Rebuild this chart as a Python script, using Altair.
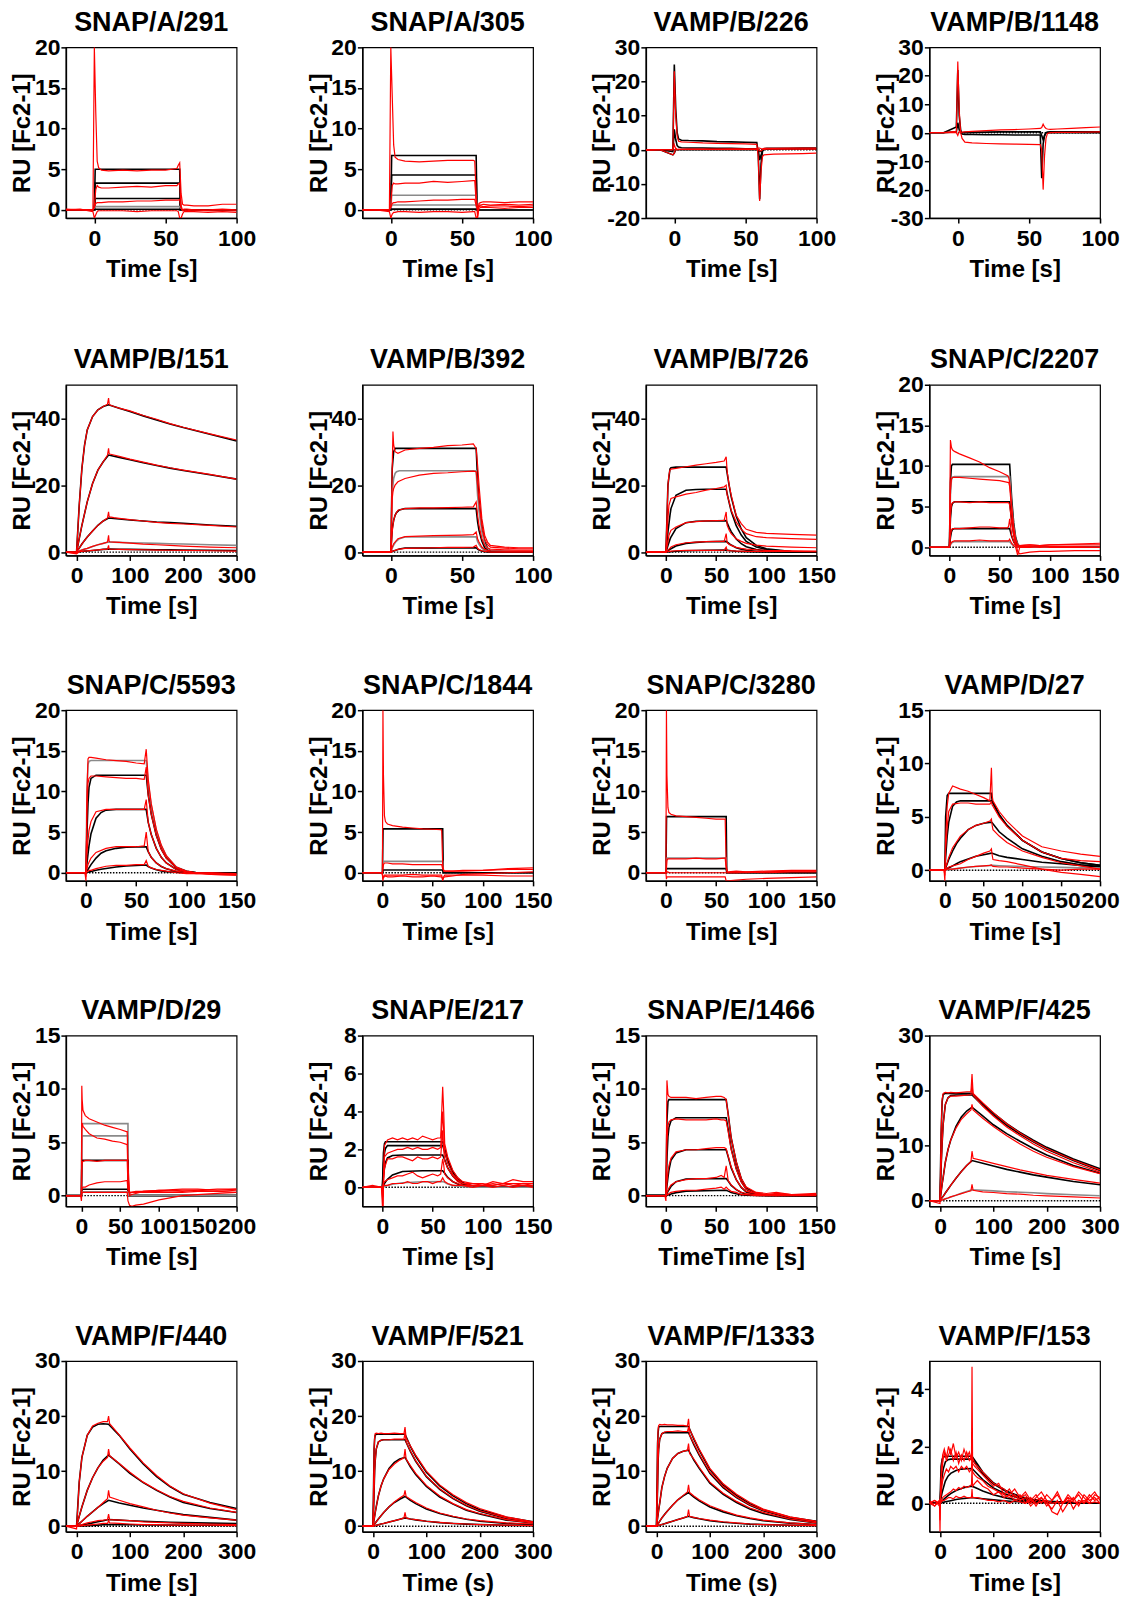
import altair as alt
import pandas as pd

FONT = "Liberation Sans"
PW, PH = 171, 171
RED = "#ff0000"
BLACK = "#000000"
GREY = "#8a8a8a"

# ---------------- shared time grids ----------------
T100 = [-20, -10, -1, 0, 1, 2, 3, 5, 10, 20, 30, 40, 50, 58, 59, 60, 61, 62, 63, 65, 70, 80, 90, 100]
RECT_T100 = [-20, 0, 0.6, 60, 60.6, 100]
RECT_T150 = [-20, 0, 0.6, 60, 60.6, 150]
RECT_T200 = [-20, 0, 0.6, 60, 60.6, 200]

# ---------------- SNAP/A/291 ----------------
P01_RED = [
    [0.1, 0, 0, 20, 12, 6, 5.2, 4.9, 4.8, 4.9, 4.8, 4.9, 4.9, 5.1, 5.5, 5.8, 2.0, 0.7, 0.6, 0.6, 0.5, 0.5, 0.7, 0.7],
    [0, 0, 0, 0.5, 2.5, 3.0, 2.8, 2.7, 2.7, 2.8, 2.9, 2.8, 3.0, 3.0, 3.2, 3.3, 0.5, 0.0, 0.1, 0.1, 0.0, 0.0, 0.1, 0.0],
    [0, 0, 0, 0.3, 0.8, 0.9, 0.9, 0.9, 1.0, 1.0, 1.1, 1.1, 1.2, 1.2, 1.2, 1.3, 0.2, -0.1, 0, -0.1, 0, -0.1, -0.1, -0.1],
    [0, 0.1, -0.2, -1.0, -0.6, -0.2, -0.1, -0.1, -0.1, -0.1, -0.2, -0.1, -0.1, -0.1, -0.2, -1.0, -1.0, -0.5, -0.2, -0.2, -0.2, -0.3, -0.2, -0.3],
]
P01_FIT = [[0, 0, 5.0, 5.0, 0, 0], [0, 0, 3.3, 3.3, 0, 0], [0, 0, 1.4, 1.4, 0, 0],
           [0, 0, 0.4, 0.4, 0, 0], [0, 0, 0.08, 0.08, 0, 0]]

# ---------------- SNAP/A/305 ----------------
P02_RED = [
    [0, 0, 0, 20, 14, 8, 6.5, 6.2, 6.0, 5.9, 6.0, 6.1, 6.1, 6.1, 6.0, 2.0, -1.0, 0.8, 0.9, 1.0, 1.0, 0.9, 1.0, 1.0],
    [0, 0, 0, 0.5, 3.0, 3.3, 3.2, 3.2, 3.3, 3.3, 3.5, 3.4, 3.5, 3.6, 3.6, 1.0, 0.2, 0.6, 0.6, 0.7, 0.6, 0.7, 0.6, 0.7],
    [0, 0, 0, 0.3, 0.8, 0.9, 0.9, 1.0, 1.0, 1.1, 1.2, 1.2, 1.3, 1.3, 1.3, 0.5, 0.3, 0.4, 0.5, 0.4, 0.5, 0.5, 0.4, 0.5],
    [0, 0, -0.2, -1.0, -0.5, -0.3, -0.3, -0.2, -0.2, -0.3, -0.2, -0.2, -0.3, -0.2, -0.2, -1.0, -0.8, 0.2, 0.3, 0.3, 0.3, 0.2, 0.3, 0.3],
]
P02_FIT = [[0, 0, 6.7, 6.7, 0, 0], [0, 0, 4.3, 4.3, 0, 0], [0, 0, 1.8, 1.8, 0, 0],
           [0, 0, 0.6, 0.6, 0, 0], [0, 0, 0.1, 0.1, 0, 0]]

# ---------------- VAMP/B/226 ----------------
P03_RED = [
    [0, 0, 0, 23, 10, 4, 2.5, 2.3, 2.2, 2.0, 1.9, 1.8, 1.7, 1.6, -2, -15, -6, -2, -1.5, -1.4, -1.3, -1.2, -1.1, -1.0],
    [-0.2, 0, 0, 1.5, 0.2, 0, 0.1, 0.1, 0.2, 0.2, 0.2, 0.3, 0.3, 0.3, 0.5, 0.5, 0.3, 0.3, 0.4, 0.4, 0.4, 0.5, 0.5, 0.5],
    [0, 0, -1.5, -1, 0.5, 0.1, 0.1, 0.1, 0.1, 0.1, 0.1, 0.1, 0.1, 0.1, 0.1, -0.3, -0.3, 0, 0.1, 0.2, 0.2, 0.2, 0.2, 0.2],
]
P03_FIT = [
    [0, 0, 0, 25, 12, 5, 3.2, 2.8, 2.7, 2.6, 2.4, 2.3, 2.2, 2.1, -1, -14.5, -4, -0.5, 0.3, 0.4, 0.4, 0.4, 0.5, 0.5],
    [0, 0, -0.5, 6, 3, 1.2, 0.8, 0.6, 0.5, 0.5, 0.4, 0.4, 0.3, 0.3, 0, -3, -1.5, -0.3, 0.2, 0.3, 0.3, 0.3, 0.3, 0.3],
    [0, 0, -1.5, -1, 0, 0, 0, 0, 0, 0, 0, 0, 0, 0, 0, -0.5, -0.5, 0, 0.1, 0.2, 0.2, 0.3, 0.3, 0.3],
]

# ---------------- VAMP/B/1148 ----------------
P04_RED = [
    [0, 0, 0.5, 25, 8, 0, -2, -3.3, -3.6, -3.8, -3.9, -4.0, -4.1, -4.2, -6, -20, -8, -2, -0.3, 0, 0.1, 0.1, 0.2, 0.3],
    [0, 0, 0, -1, 0.5, 0.2, 0.2, 0.3, 0.5, 0.7, 1.0, 1.1, 1.3, 1.5, 1.8, 3.0, 2.0, 1.5, 1.3, 1.2, 1.3, 1.5, 1.8, 2.0],
]
P04_FIT = [
    [0, 0, 2, 22, 6, 1, -0.5, -0.6, -0.6, -0.7, -0.7, -0.8, -0.8, -0.8, -16, -4, -1, 0, 0, 0, 0, 0, 0, 0],
    [0, 0, 0.3, 3.5, 1, 0, 0, 0.1, 0.2, 0.2, 0.3, 0.3, 0.3, 0.3, -1, -2.5, -1, 0, 0.2, 0.3, 0.3, 0.3, 0.3, 0.3],
]

# ---------------- VAMP/B/151 ----------------
P05_RED_T = [-20, 0, 5, 10, 15, 20, 30, 40, 50, 58, 60, 61, 62, 70, 80, 100, 125, 150, 175, 200, 250, 300]
P05_RED = [
    [0, 0, 14, 25, 32, 36.5, 40.5, 42.5, 43.5, 44.2, 46, 44.5, 44, 43.5, 43, 42.2, 40.8, 39.7, 38.4, 37.3, 35.3, 33.5],
    [0, 0, 4, 8, 11.5, 15, 20.5, 24.5, 27, 29, 31, 29.5, 29.3, 29, 28.6, 27.8, 26.9, 26, 25.2, 24.5, 23.2, 21.8],
    [0, 0, 1.2, 2.4, 3.5, 4.5, 6.3, 8, 9.3, 10.2, 12, 10.7, 10.5, 10.3, 10.1, 9.7, 9.3, 8.9, 8.6, 8.4, 8.0, 7.5],
    [0, -0.3, 0.3, 0.6, 0.9, 1.1, 1.7, 2.2, 2.6, 3.0, 5, 3.3, 3.1, 3.0, 2.9, 2.7, 2.4, 2.2, 2.0, 1.8, 1.5, 1.3],
    [0, -0.5, 0.1, 0.2, 0.3, 0.35, 0.5, 0.65, 0.8, 0.9, 2, 1.0, 0.9, 0.85, 0.8, 0.75, 0.7, 0.6, 0.55, 0.5, 0.4, 0.3],
]
P05_FIT_T = [-20, 0, 5, 10, 15, 20, 30, 40, 50, 60, 80, 100, 125, 150, 175, 200, 250, 300]
P05_FIT = [
    [0, 0, 14, 25, 32, 36.5, 40.5, 42.5, 43.5, 44, 43, 42, 40.7, 39.5, 38.3, 37.2, 35.2, 33.2],
    [0, 0, 4, 8, 11.5, 15, 20.5, 24.5, 27, 29, 28.3, 27.6, 26.7, 25.9, 25.1, 24.4, 23.1, 21.8],
    [0, 0, 1.2, 2.4, 3.5, 4.5, 6.3, 8, 9.3, 10.2, 9.9, 9.6, 9.3, 9.0, 8.8, 8.6, 8.1, 7.7],
    [0, 0, 0.3, 0.6, 0.9, 1.1, 1.7, 2.2, 2.6, 3.0, 2.9, 2.8, 2.7, 2.6, 2.5, 2.4, 2.2, 2.0],
    [0, 0, 0.1, 0.2, 0.3, 0.35, 0.5, 0.65, 0.8, 0.9, 0.85, 0.8, 0.75, 0.7, 0.65, 0.6, 0.55, 0.5],
]

# ---------------- VAMP/B/392 ----------------
P06_RED_T = [-20, -1, 0, 1, 1.5, 2, 3, 5, 10, 20, 30, 40, 50, 58, 60, 61, 62, 64, 66, 68, 70, 80, 90, 100]
P06_RED = [
    [0, 0, 0, 25, 36, 32, 30, 29.5, 30.5, 31, 31.3, 31.8, 32, 32.3, 31, 26, 20, 10, 5, 3, 2, 1.5, 1.3, 1.3],
    [0, 0, 0, 16, 18, 19, 20, 21, 22, 23, 23.5, 23.7, 24, 24.2, 24, 20, 15, 7.5, 3.8, 2.2, 1.5, 1.2, 1.0, 1.0],
    [0, 0, 0, 6, 8, 9.5, 11, 12.5, 13, 13.2, 13.2, 13.3, 13.4, 13.5, 15, 11, 8, 4, 2, 1.2, 0.9, 0.7, 0.6, 0.6],
    [0, 0, 0, 1.5, 2, 2.5, 3, 4, 4.6, 4.8, 4.9, 5, 5.1, 5.2, 6, 4, 3, 1.5, 0.8, 0.5, 0.4, 0.3, 0.3, 0.3],
    [0, 0, 0, 0.2, 0.3, 0.4, 0.5, 0.8, 1.1, 1.2, 1.3, 1.4, 1.4, 1.5, 2, 1.2, 0.8, 0.4, 0.2, 0.1, 0, 0, 0, 0],
]
P06_FIT_T = [-20, 0, 1, 2, 3, 4, 6, 10, 60, 61, 62, 64, 66, 68, 70, 100]
P06_FIT = [
    [0, 0, 25, 30, 31, 31, 31, 31, 31, 21.7, 15.5, 7.8, 3.1, 1.2, 0.3, 0],
    [0, 0, 18, 22, 23.5, 24, 24.3, 24.3, 24.3, 17, 12.2, 6.1, 2.4, 1.0, 0.2, 0],
    [0, 0, 7, 9.5, 11, 11.8, 12.6, 13, 13, 9.1, 6.5, 3.3, 1.3, 0.5, 0.1, 0],
    [0, 0, 1.2, 2.1, 2.8, 3.3, 4, 4.5, 4.6, 3.2, 2.3, 1.2, 0.5, 0.2, 0.05, 0],
    [0, 0, 0.2, 0.4, 0.5, 0.6, 0.9, 1.2, 1.3, 0.9, 0.65, 0.3, 0.13, 0.05, 0, 0],
]

# ---------------- VAMP/B/726 ----------------
P07_RED_T = [-20, -1, 0, 1, 2, 3, 4, 5, 10, 20, 30, 40, 50, 58, 60, 61, 63, 65, 70, 75, 80, 90, 100, 125, 150]
P07_RED = [
    [0, 0, 0, 10, 20, 23, 24.5, 24.8, 25, 25.5, 26, 26.4, 26.8, 27.2, 28.5, 24, 20, 17, 11, 8.5, 6.8, 5.9, 5.6, 5.3, 5.1],
    [0, 0, 0, 5, 10, 14, 15, 16, 16.5, 17.3, 17.8, 18.5, 19.0, 19.5, 20, 17, 15, 12.5, 9, 6.8, 5.5, 4.6, 4.3, 4.0, 3.8],
    [0, 0, 0, 1.5, 3, 5, 5.8, 6.5, 7.5, 8.8, 9.1, 9.3, 9.4, 9.5, 12, 8, 6.5, 5.5, 4, 3.2, 2.6, 2.1, 1.8, 1.5, 1.3],
    [0, 0, 0, 0.3, 0.6, 0.9, 1.2, 1.5, 2.2, 2.8, 3.0, 3.1, 3.2, 3.2, 5.5, 2.8, 2.3, 2.0, 1.4, 1.1, 0.9, 0.7, 0.5, 0.4, 0.3],
    [0, 0, 0, 0.1, 0.1, 0.2, 0.2, 0.3, 0.4, 0.5, 0.5, 0.5, 0.5, 0.6, 1.5, 0.5, 0.4, 0.4, 0.3, 0.3, 0.2, 0.2, 0.2, 0.2, 0.1],
]
P07_FIT_T = [-20, 0, 2, 4, 5, 10, 20, 30, 40, 60, 63, 65, 70, 75, 80, 90, 100, 125, 150]
P07_FIT = [
    [0, 0, 20, 24.8, 25.2, 25.4, 25.4, 25.4, 25.4, 25.4, 19.8, 16.5, 10.7, 6.9, 4.3, 2.0, 1.0, 0.13, 0],
    [0, 0, 6, 11, 13, 17, 18.5, 18.7, 18.8, 18.8, 14.7, 12.2, 7.9, 5.1, 3.2, 1.5, 0.75, 0.1, 0],
    [0, 0, 2, 3.8, 4.5, 7.0, 8.8, 9.2, 9.3, 9.4, 7.3, 6.1, 3.9, 2.5, 1.6, 0.75, 0.38, 0.05, 0],
    [0, 0, 0.4, 0.8, 1.0, 1.8, 2.6, 2.9, 3.1, 3.2, 2.5, 2.1, 1.3, 0.86, 0.54, 0.26, 0.13, 0.02, 0],
    [0, 0, 0.05, 0.1, 0.12, 0.25, 0.4, 0.5, 0.55, 0.6, 0.47, 0.39, 0.25, 0.16, 0.1, 0.05, 0.02, 0, 0],
]

# ---------------- SNAP/C/2207 ----------------
P08_RED_T = [-20, -1, 0, 1, 2, 3, 5, 10, 20, 30, 40, 50, 58, 59, 60, 62, 64, 66, 68, 70, 80, 90, 100, 125, 150]
P08_RED = [
    [0, 0, 0, 13.2, 12.3, 12, 11.8, 11.5, 11, 10.5, 9.8, 9.3, 8.8, 8.6, 8.0, 5, 2.5, 1, 0.3, 0.2, 0.3, 0.2, 0.3, 0.4, 0.5],
    [0, 0, 0, 7, 8.4, 8.6, 8.6, 8.6, 8.5, 8.4, 8.3, 8.2, 8.0, 8.0, 7.5, 4.5, 2, 0.5, -0.5, -0.8, -0.6, -0.5, -0.5, -0.4, -0.4],
    [0, 0, 0, 4, 5.2, 5.5, 5.6, 5.6, 5.5, 5.6, 5.5, 5.5, 5.5, 5.5, 5.2, 3, 1.5, 0.5, 0.2, 0.2, 0.3, 0.2, 0.3, 0.3, 0.3],
    [0, 0, 0, 1.5, 2.1, 2.3, 2.3, 2.3, 2.4, 2.5, 2.5, 2.4, 2.4, 2.6, 3.5, 1.5, 0.7, 0.2, 0, 0.1, 0.1, 0, 0.1, 0.1, 0],
    [0, 0, 0, 0.4, 0.6, 0.7, 0.8, 0.8, 0.8, 0.9, 0.8, 0.8, 0.8, 0.8, 1.0, 0.5, 0.2, 0, -1.0, 0, 0, 0.1, 0, 0, 0],
]
P08_FIT_T = [-20, 0, 1, 2, 3, 5, 60, 62, 64, 66, 68, 70, 150]
P08_FIT = [
    [0, 0, 8, 10, 10.2, 10.2, 10.2, 6, 3, 1.2, 0.4, 0.1, 0],
    [0, 0, 6.5, 8.3, 8.6, 8.7, 8.7, 5.1, 2.5, 1.0, 0.35, 0.08, 0],
    [0, 0, 3.5, 5.0, 5.4, 5.6, 5.6, 3.3, 1.6, 0.65, 0.2, 0.05, 0],
    [0, 0, 1.2, 1.9, 2.2, 2.3, 2.3, 1.35, 0.7, 0.27, 0.09, 0.02, 0],
    [0, 0, 0.3, 0.5, 0.6, 0.7, 0.7, 0.4, 0.2, 0.08, 0.03, 0, 0],
]

# ---------------- SNAP/C/5593 ----------------
P09_RED_T = [-20, -1, 0, 1, 2, 3, 5, 10, 20, 30, 40, 50, 58, 60, 62, 65, 70, 75, 80, 90, 100, 110, 125, 150]
P09_RED = [
    [0, 0, -1, 10, 14, 14.2, 14.2, 14.1, 13.9, 13.8, 13.7, 13.5, 13.4, 15.2, 11.5, 8.5, 5.4, 3.4, 2.1, 0.7, 0.2, 0, -0.2, -0.3],
    [0, 0, -0.5, 8, 11, 11.6, 11.9, 11.9, 11.8, 11.7, 11.6, 11.6, 11.5, 13, 9.5, 7.2, 4.6, 2.9, 1.8, 0.6, 0.1, 0, -0.1, -0.2],
    [0, 0, 0, 2.5, 4, 5.2, 6.3, 7.5, 7.8, 7.8, 7.8, 7.8, 7.8, 9, 6.2, 4.7, 3.0, 1.9, 1.2, 0.4, 0.1, 0, 0, -0.1],
    [0, 0, 0, 0.5, 1, 1.3, 1.8, 2.5, 3.0, 3.2, 3.2, 3.2, 3.3, 5, 2.6, 1.9, 1.2, 0.8, 0.5, 0.2, 0, -0.1, 0, -0.2],
    [0, 0, 0, 0.1, 0.2, 0.3, 0.3, 0.5, 0.8, 0.9, 0.9, 1.0, 1.0, 1.5, 0.8, 0.6, 0.4, 0.3, 0.2, 0, -0.1, -0.1, -0.2, -0.3],
]
P09_FIT_T = [-20, 0, 1, 2, 3, 5, 10, 15, 20, 30, 40, 60, 62, 65, 70, 75, 80, 90, 100, 110, 150]
P09_FIT = [
    [0, 0, 10, 13.3, 13.7, 13.8, 13.8, 13.8, 13.8, 13.8, 13.8, 13.8, 11.0, 8.3, 5.2, 3.3, 2.1, 0.7, 0.2, 0, 0],
    [0, 0, 5, 8.5, 10.5, 11.6, 12, 12, 12, 12, 12, 12, 9.6, 7.2, 4.6, 2.9, 1.8, 0.6, 0.18, 0, 0],
    [0, 0, 1.2, 2.3, 3.3, 4.8, 6.7, 7.4, 7.7, 7.8, 7.8, 7.8, 6.2, 4.7, 3.0, 1.9, 1.2, 0.4, 0.12, 0, 0],
    [0, 0, 0.2, 0.4, 0.6, 1.0, 1.8, 2.4, 2.7, 3.0, 3.15, 3.2, 2.6, 1.9, 1.2, 0.77, 0.48, 0.16, 0.05, 0, 0],
    [0, 0, 0.03, 0.06, 0.09, 0.15, 0.3, 0.42, 0.52, 0.7, 0.82, 0.95, 0.76, 0.57, 0.36, 0.23, 0.14, 0.05, 0.01, 0, 0],
]

# ---------------- SNAP/C/1844 and SNAP/C/3280 ----------------
C_RED_T = [-20, -1, 0, 0.5, 1, 2, 3, 5, 10, 20, 30, 40, 50, 58, 59, 60, 61, 62, 70, 80, 100, 125, 150]
P10_RED = [
    [0, 0, 0, 20, 12, 7, 6.3, 6.0, 5.8, 5.6, 5.5, 5.4, 5.35, 5.3, 5.2, 1, 0.2, 0.2, 0.2, 0.2, 0.3, 0.5, 0.6],
    [0, 0, 0, 0.5, 1.0, 1.2, 1.2, 1.2, 1.1, 1.1, 1.0, 1.0, 1.0, 1.0, 1.0, 0.5, 0.3, 0.2, 0.2, 0.3, 0.3, 0.4, 0.4],
    [0, 0, -0.3, -1, -0.5, -0.3, -0.3, -0.3, -0.3, -0.3, -0.2, -0.3, -0.3, -0.3, -0.3, -1, -0.5, -0.3, -0.3, -0.3, -0.3, -0.4, -0.4],
    [0, 0, 0, -0.6, -0.5, -0.5, -0.4, -0.5, -0.5, -0.4, -0.5, -0.5, -0.4, -0.5, -0.5, -0.8, -0.6, -0.5, -0.4, -0.2, -0.1, 0, 0.1],
]
P10_FIT = [[0, 0, 5.4, 5.4, 0, 0], [0, 0, 1.4, 1.4, 0, 0], [0, 0, 0.33, 0.33, 0, 0]]
P11_RED = [
    [0, 0, 0, 20, 12, 8, 7.4, 7.2, 7.0, 6.9, 6.8, 6.7, 6.6, 6.6, 6.6, 1, 0.2, 0.1, 0.2, 0.1, 0.2, 0.3, 0.3],
    [0, 0, 0, 0.5, 1.5, 1.7, 1.7, 1.7, 1.7, 1.7, 1.8, 1.7, 1.7, 1.8, 1.8, 0.5, 0.1, 0, 0, 0.1, 0, 0.1, 0.1],
    [0, 0, 0, -0.8, -0.5, -0.5, -0.5, -0.5, -0.5, -0.5, -0.5, -0.5, -0.5, -0.5, -0.5, -1, -1, -1, -0.9, -0.8, -0.7, -0.6, -0.5],
    [0, 0, 0, 0.2, 0.1, 0.1, 0, 0, 0, 0, 0, 0, 0, 0, 0, 0, 0, 0, 0, 0, 0.1, 0.2, 0.2],
]
P11_FIT = [[0, 0, 6.9, 6.9, 0, 0], [0, 0, 1.8, 1.8, 0, 0], [0, 0, 0.5, 0.5, 0, 0]]

# ---------------- VAMP/D/27 ----------------
P12_RED_T = [-20, -1, 0, 1, 3, 5, 10, 20, 30, 40, 50, 58, 60, 61, 62, 70, 80, 100, 125, 150, 175, 200]
P12_RED = [
    [0, 0, -1, 3, 6, 7.2, 7.9, 7.6, 7.4, 7.1, 6.8, 6.5, 9.6, 7, 6.5, 5.5, 4.6, 3.2, 2.2, 1.8, 1.5, 1.3],
    [0, 0, -0.5, 2, 4, 5.5, 6.2, 6.3, 6.3, 6.2, 6.2, 6.2, 6.4, 6.1, 6.0, 5.0, 4.1, 2.8, 1.7, 1.1, 0.9, 0.8],
    [0, 0, 0, 0.3, 0.7, 1.2, 2.1, 3.2, 3.8, 4.2, 4.4, 4.6, 4.8, 4.2, 3.8, 3.2, 2.6, 1.8, 1.2, 0.7, 0.4, 0.1],
    [0, 0, 0, 0.1, 0.2, 0.3, 0.4, 0.6, 1.0, 1.3, 1.6, 1.8, 2.0, 1.4, 1.0, 0.9, 0.8, 0.5, 0.1, -0.2, -0.4, -0.6],
    [0, 0, 0, 0, 0.1, 0.1, 0.1, 0.2, 0.3, 0.35, 0.4, 0.45, 0.5, 0.4, 0.35, 0.3, 0.3, 0.2, 0.1, 0.0, 0.1, 0.1],
]
P12_FIT_T = [-20, 0, 1, 3, 5, 10, 15, 20, 30, 40, 50, 60, 61, 70, 80, 100, 125, 150, 175, 200]
P12_FIT = [
    [0, 0, 5, 7, 7.2, 7.2, 7.2, 7.2, 7.2, 7.2, 7.2, 7.2, 6.5, 5.2, 4.2, 2.8, 1.7, 1.1, 0.7, 0.45],
    [0, 0, 1.2, 3.2, 4.5, 6.0, 6.4, 6.5, 6.5, 6.5, 6.5, 6.5, 6.4, 5.2, 4.2, 2.8, 1.7, 1.1, 0.7, 0.45],
    [0, 0, 0.2, 0.6, 1.0, 1.8, 2.5, 3.0, 3.8, 4.2, 4.4, 4.5, 4.45, 3.6, 3.0, 2.0, 1.3, 0.8, 0.5, 0.35],
    [0, 0, 0.05, 0.15, 0.2, 0.4, 0.6, 0.8, 1.05, 1.3, 1.45, 1.6, 1.58, 1.35, 1.2, 1.0, 0.75, 0.6, 0.45, 0.3],
    [0, 0, 0, 0.03, 0.05, 0.1, 0.15, 0.2, 0.28, 0.35, 0.4, 0.45, 0.45, 0.42, 0.4, 0.35, 0.3, 0.26, 0.22, 0.2],
]

# ---------------- VAMP/D/29 ----------------
P13_RED_T = [-20, -1, 0, 0.5, 1, 2, 5, 10, 20, 30, 40, 50, 58, 59, 60, 62, 65, 70, 80, 100, 130, 150, 175, 200]
P13_RED = [
    [0, 0, 0, 10.3, 9, 8, 7.5, 7.2, 6.9, 6.6, 6.4, 6.2, 6.0, 6.0, 3, 0, 0.1, 0.2, 0.4, 0.5, 0.6, 0.6, 0.5, 0.6],
    [0, 0, 0, 6, 6.8, 6.5, 6.2, 5.8, 5.4, 5.3, 5.1, 5.0, 4.8, 4.8, 2, 0.3, 0.3, 0.4, 0.4, 0.5, 0.4, 0.5, 0.6, 0.6],
    [0, 0, 0, 2.5, 3.1, 3.2, 3.3, 3.3, 3.2, 3.3, 3.3, 3.3, 3.3, 3.3, 1, 0.3, 0.3, 0.3, 0.4, 0.4, 0.5, 0.5, 0.4, 0.5],
    [0, 0, 0, 0.5, 0.7, 0.8, 0.8, 1.0, 1.2, 1.3, 1.3, 1.3, 1.4, 1.4, 0.5, 0.2, 0.3, 0.3, 0.3, 0.3, 0.3, 0.4, 0.4, 0.3],
    [0, 0, -0.5, 0.2, 0.3, 0.3, 0.3, 0.3, 0.3, 0.3, 0.3, 0.3, 0.3, 0.3, -0.5, -0.9, -1.0, -0.9, -0.8, -0.4, 0, 0.1, 0.2, 0.3],
]
P13_FIT = [[0, 0, 6.75, 6.75, 0, 0], [0, 0, 5.6, 5.6, 0, 0], [0, 0, 3.3, 3.3, 0, 0],
           [0, 0, 0.6, 0.6, 0, 0], [0, 0, 0.35, 0.35, 0, 0]]

# ---------------- SNAP/E/217 ----------------
P14_RED_T = [-20, -10, -1, 0, 0.5, 1, 2, 5, 10, 15, 20, 25, 30, 35, 40, 45, 50, 55, 58, 60, 61, 62, 65, 70,
             75, 80, 90, 100, 110, 120, 130, 140, 150]
P14_RED = [
    [0, 0.1, 0, -1, -1, 0.5, 2.2, 2.5, 2.6, 2.5, 2.6, 2.5, 2.6, 2.5, 2.7, 2.6, 2.5, 2.6, 2.6, 5.3, 4, 2.3, 1.6, 0.9,
     0.5, 0.3, 0.2, 0.1, 0.3, 0.2, 0.4, 0.3, 0.3],
    [0, 0, 0, -0.5, -1, 0, 1.6, 1.8, 1.9, 2.0, 2.0, 2.1, 2.0, 2.1, 2.0, 2.0, 2.1, 2.0, 2.1, 4.0, 3, 1.9, 1.3, 0.7,
     0.4, 0.2, 0.2, 0.2, 0.1, 0.2, 0.2, 0.1, 0.2],
    [0, 0, 0, 0, -0.5, 0.3, 1.0, 1.5, 1.5, 1.6, 1.6, 1.5, 1.4, 1.6, 1.5, 1.5, 1.6, 1.5, 1.6, 3, 2, 1.4, 1.0, 0.6,
     0.3, 0.2, 0.1, 0.1, 0.2, 0.1, 0.2, 0.2, 0.2],
    [0, 0, 0, 0, 0.1, 0.2, 0.3, 0.4, 0.5, 0.6, 0.6, 0.7, 0.8, 0.6, 0.5, 0.6, 0.7, 0.6, 0.7, 1.5, 1.2, 0.7, 0.5, 0.3,
     0.2, 0.1, 0.1, 0.1, 0.1, 0.2, 0.1, 0.1, 0.1],
    [0, 0, 0, 0, 0, 0.1, 0.1, 0.1, 0.2, 0.2, 0.2, 0.3, 0.2, 0.2, 0.3, 0.3, 0.2, 0.3, 0.3, 0.5, 0.4, 0.3, 0.2, 0.1,
     0.1, 0.1, 0, 0.1, 0, 0.1, 0, 0.1, 0],
]
P14_FIT_T = [-20, 0, 1, 2, 3, 5, 10, 20, 40, 60, 62, 65, 70, 75, 80, 90, 150]
P14_FIT = [
    [0, 0, 1.8, 2.3, 2.4, 2.4, 2.4, 2.4, 2.4, 2.4, 2.04, 1.44, 0.84, 0.48, 0.24, 0.05, 0],
    [0, 0, 1.2, 1.8, 2.05, 2.2, 2.2, 2.2, 2.2, 2.2, 1.87, 1.32, 0.77, 0.44, 0.22, 0.04, 0],
    [0, 0, 0.6, 1.0, 1.3, 1.55, 1.68, 1.7, 1.7, 1.7, 1.45, 1.02, 0.6, 0.34, 0.17, 0.03, 0],
    [0, 0, 0.1, 0.2, 0.28, 0.42, 0.65, 0.83, 0.87, 0.87, 0.74, 0.52, 0.3, 0.17, 0.09, 0.02, 0],
    [0, 0, 0.02, 0.04, 0.06, 0.09, 0.16, 0.24, 0.29, 0.3, 0.26, 0.18, 0.1, 0.06, 0.03, 0.01, 0],
]

# ---------------- SNAP/E/1466 ----------------
P15_RED_T = [-20, -1, 0, 1, 2, 3, 5, 10, 20, 30, 40, 50, 55, 58, 60, 62, 65, 70, 75, 80, 90, 100, 110, 125, 150]
P15_RED = [
    [0, 0, -0.5, 10.8, 9.5, 9.3, 9.2, 9.2, 9.2, 9.1, 9.2, 9.3, 9.3, 9.2, 9.0, 7.6, 5.4, 3.2, 1.6, 0.8, 0.3, 0.2, 0.3, 0.1, 0.2],
    [0, 0, 0, 5, 6.5, 6.9, 7.1, 7.2, 7.1, 7.1, 7.1, 7.2, 7.1, 7.1, 7.0, 6.0, 4.3, 2.5, 1.3, 0.6, 0.2, 0.1, 0.2, 0.1, 0.1],
    [0, 0, 0, 1.2, 2.2, 2.8, 3.5, 4.1, 4.3, 4.3, 4.4, 4.5, 4.5, 4.5, 4.4, 3.7, 2.7, 1.5, 0.8, 0.4, 0.2, 0.1, 0.1, 0.1, 0.1],
    [0, 0, 0, 0.3, 0.5, 0.7, 1.0, 1.3, 1.5, 1.6, 1.6, 1.7, 1.9, 1.7, 2.8, 1.4, 1.0, 0.6, 0.3, 0.2, 0.1, 0.1, 0, 0.1, 0.1],
    [0, 0, 0, 0.1, 0.1, 0.2, 0.3, 0.4, 0.5, 0.5, 0.6, 0.7, 0.8, 0.6, 0.8, 0.6, 0.4, 0.3, 0.1, 0.1, 0, 0, 0, 0, 0],
]
P15_FIT_T = [-20, 0, 1, 2, 3, 5, 10, 20, 60, 62, 65, 70, 75, 80, 90, 100, 150]
P15_FIT = [
    [0, 0, 7, 8.8, 9.0, 9.0, 9.0, 9.0, 9.0, 7.65, 5.4, 3.15, 1.6, 0.72, 0.18, 0.05, 0],
    [0, 0, 3.5, 5.5, 6.4, 7.0, 7.3, 7.3, 7.3, 6.2, 4.4, 2.55, 1.3, 0.58, 0.15, 0.04, 0],
    [0, 0, 0.9, 1.7, 2.4, 3.3, 4.0, 4.3, 4.3, 3.65, 2.6, 1.5, 0.77, 0.34, 0.09, 0.02, 0],
    [0, 0, 0.2, 0.4, 0.55, 0.85, 1.3, 1.55, 1.6, 1.36, 0.96, 0.56, 0.29, 0.13, 0.03, 0.01, 0],
    [0, 0, 0.03, 0.06, 0.09, 0.15, 0.28, 0.42, 0.5, 0.42, 0.3, 0.17, 0.09, 0.04, 0.01, 0, 0],
]

# ---------------- VAMP/F/425 ----------------
P16_RED_T = [-20, 0, 2, 4, 6, 10, 15, 20, 30, 40, 50, 58, 60, 62, 80, 100, 125, 150, 175, 200, 250, 300]
P16_RED = [
    [0, -0.5, 12, 18.5, 19.5, 19.7, 19.6, 19.7, 19.6, 19.7, 19.8, 19.8, 23, 19.5, 17.8, 16.0, 14.0, 12.3, 10.8, 9.5, 7.4, 5.6],
    [0, 0, 6, 10.5, 14, 17.5, 18.7, 19.0, 19.0, 19.1, 19.2, 19.3, 21, 19.2, 17.2, 15.4, 13.4, 11.8, 10.3, 9.0, 6.9, 5.2],
    [0, 0, 1.5, 3, 4.3, 7, 9.3, 11, 13.2, 14.8, 15.8, 16.5, 17.5, 16.5, 15.0, 13.5, 11.8, 10.3, 9.0, 7.9, 6.2, 4.9],
    [0, 0, 0.3, 0.6, 0.8, 1.4, 2.1, 2.8, 4.1, 5.3, 6.4, 7.1, 9, 7.7, 7.3, 6.8, 6.2, 5.6, 5.1, 4.6, 3.9, 3.2],
    [0, 0, 0.07, 0.14, 0.2, 0.35, 0.5, 0.7, 1.0, 1.3, 1.6, 1.8, 3, 1.9, 1.6, 1.5, 1.3, 1.2, 1.0, 0.9, 0.7, 0.5],
]
P16_FIT_T = [-20, 0, 2, 4, 6, 10, 15, 20, 30, 40, 50, 60, 80, 100, 125, 150, 175, 200, 250, 300]
P16_FIT = [
    [0, 0, 12, 18, 19.3, 19.5, 19.5, 19.5, 19.5, 19.5, 19.5, 19.5, 17.6, 15.9, 14.0, 12.4, 11.0, 9.7, 7.6, 5.8],
    [0, 0, 6, 10.5, 14, 17.5, 18.7, 19.1, 19.2, 19.2, 19.2, 19.2, 17.3, 15.6, 13.7, 12.1, 10.7, 9.4, 7.3, 5.5],
    [0, 0, 1.5, 3, 4.3, 7, 9.3, 11, 13.5, 15.2, 16.3, 17.0, 15.4, 13.8, 12.2, 10.8, 9.5, 8.3, 6.4, 5.0],
    [0, 0, 0.3, 0.6, 0.8, 1.4, 2.1, 2.8, 4.1, 5.3, 6.4, 7.3, 6.8, 6.3, 5.7, 5.2, 4.7, 4.3, 3.5, 2.9],
    [0, 0, 0.07, 0.14, 0.2, 0.35, 0.5, 0.7, 1.0, 1.35, 1.7, 2.0, 1.9, 1.8, 1.65, 1.55, 1.45, 1.3, 1.1, 0.9],
]

# ---------------- VAMP/F/440 ----------------
P17_RED_T = [-20, 0, 5, 10, 20, 30, 40, 50, 58, 60, 62, 80, 100, 125, 150, 175, 200, 250, 300]
P17_RED = [
    [0, -0.5, 8, 12.5, 16.5, 18.2, 18.7, 19.0, 19.0, 20, 18.6, 16.6, 14.2, 11.5, 9.2, 7.3, 5.9, 4.2, 3.0],
    [0, 0, 1.8, 3.5, 6.5, 8.8, 10.6, 11.8, 12.5, 14, 12.8, 11.4, 9.8, 8.0, 6.6, 5.4, 4.5, 3.3, 2.5],
    [0, 0, 0.45, 0.9, 1.8, 2.6, 3.4, 4.3, 5.0, 6.5, 5.3, 4.7, 4.1, 3.5, 2.9, 2.4, 2.0, 1.5, 1.1],
    [0, 0, 0.1, 0.3, 0.6, 0.8, 1.0, 1.1, 1.2, 2.2, 1.2, 1.1, 1.0, 0.8, 0.7, 0.6, 0.5, 0.4, 0.3],
    [0, 0, 0, 0.1, 0.2, 0.3, 0.4, 0.5, 0.5, 1.0, 0.6, 0.5, 0.4, 0.3, 0.3, 0.2, 0.2, 0.2, 0.1],
]
P17_FIT_T = [-20, 0, 5, 10, 20, 30, 40, 50, 60, 80, 100, 125, 150, 175, 200, 250, 300]
P17_FIT = [
    [0, 0, 8, 12.5, 16.5, 18, 18.5, 18.6, 18.5, 16.5, 14, 11.3, 9.0, 7.2, 5.8, 4.3, 3.2],
    [0, 0, 1.8, 3.5, 6.5, 8.8, 10.6, 12, 12.9, 11.3, 9.6, 7.9, 6.5, 5.3, 4.3, 3.2, 2.5],
    [0, 0, 0.45, 0.9, 1.8, 2.6, 3.4, 4.1, 4.7, 4.2, 3.8, 3.3, 2.9, 2.5, 2.1, 1.6, 1.1],
    [0, 0, 0.1, 0.2, 0.4, 0.6, 0.8, 1.0, 1.2, 1.1, 1.0, 0.9, 0.8, 0.72, 0.65, 0.55, 0.5],
    [0, 0, 0.03, 0.05, 0.1, 0.15, 0.2, 0.25, 0.3, 0.28, 0.26, 0.24, 0.22, 0.2, 0.18, 0.16, 0.15],
]

# ---------------- VAMP/F/521 and VAMP/F/1333 ----------------
F_RED_T = [-20, 0, 2, 3, 4, 6, 10, 15, 20, 30, 40, 50, 58, 60, 62, 70, 80, 100, 125, 150, 175, 200, 250, 300]
F_FIT_T = [-20, 0, 2, 3, 4, 6, 10, 15, 20, 30, 40, 50, 60, 70, 80, 100, 125, 150, 175, 200, 250, 300]
P18_RED = [
    [0, 0, 14, 16, 16.8, 16.9, 16.8, 16.9, 16.8, 16.8, 16.9, 16.8, 16.8, 18, 16, 14.6, 12.9, 10.0, 7.5, 5.7, 4.3, 3.2, 1.7, 0.8],
    [0, 0, 6.5, 10, 11.8, 14, 15.3, 15.6, 15.7, 15.7, 15.8, 15.8, 15.8, 17, 15.3, 13.7, 11.9, 9.1, 6.8, 5.1, 3.8, 2.8, 1.5, 0.7],
    [0, 0, 1.2, 1.8, 2.4, 3.5, 5.5, 7.3, 8.6, 10.3, 11.3, 12.0, 12.4, 14, 12.2, 11.0, 9.6, 7.4, 5.5, 4.1, 3.0, 2.3, 1.2, 0.6],
    [0, 0, 0.28, 0.42, 0.55, 0.8, 1.3, 1.9, 2.5, 3.5, 4.4, 5.1, 5.6, 6.5, 5.4, 4.9, 4.3, 3.3, 2.4, 1.8, 1.3, 1.0, 0.6, 0.4],
    [0, 0, 0.05, 0.08, 0.1, 0.15, 0.25, 0.4, 0.5, 0.75, 1.0, 1.25, 1.5, 2.5, 1.5, 1.3, 1.2, 0.9, 0.7, 0.5, 0.4, 0.3, 0.2, 0.1],
]
P18_FIT = [
    [0, 0, 14, 15.8, 16.5, 16.7, 16.7, 16.7, 16.7, 16.7, 16.7, 16.7, 16.7, 14.5, 12.7, 9.8, 7.3, 5.5, 4.1, 3.0, 1.6, 0.8],
    [0, 0, 6.5, 10, 11.8, 14, 15.3, 15.6, 15.7, 15.7, 15.7, 15.7, 15.7, 13.6, 11.8, 9.0, 6.7, 5.0, 3.7, 2.7, 1.4, 0.7],
    [0, 0, 1.2, 1.8, 2.4, 3.5, 5.5, 7.3, 8.6, 10.5, 11.6, 12.2, 12.5, 10.8, 9.4, 7.2, 5.3, 4.0, 2.9, 2.2, 1.1, 0.6],
    [0, 0, 0.28, 0.42, 0.55, 0.8, 1.3, 1.9, 2.5, 3.5, 4.3, 4.9, 5.4, 4.7, 4.1, 3.1, 2.3, 1.7, 1.25, 0.9, 0.5, 0.3],
    [0, 0, 0.05, 0.08, 0.1, 0.15, 0.25, 0.4, 0.5, 0.75, 1.0, 1.25, 1.5, 1.3, 1.15, 0.9, 0.65, 0.5, 0.38, 0.3, 0.18, 0.1],
]
P19_RED = [
    [0, 0, 15, 17.5, 18.3, 18.5, 18.4, 18.5, 18.4, 18.4, 18.3, 18.3, 18.2, 19.5, 17.5, 16.0, 14.0, 10.5, 7.7, 5.8, 4.3, 3.1, 1.7, 0.9],
    [0, 0, 7, 12, 14, 15.8, 16.8, 17.1, 17.2, 17.2, 17.3, 17.2, 17.2, 18, 16.5, 15.0, 13.1, 9.8, 7.2, 5.3, 3.9, 2.9, 1.6, 0.8],
    [0, 0, 1.5, 2.2, 2.9, 4.2, 7, 9, 10.5, 12.3, 13.2, 13.6, 13.8, 15, 13.2, 12.2, 10.7, 8.0, 6.0, 4.5, 3.3, 2.5, 1.3, 0.6],
    [0, 0, 0.3, 0.45, 0.6, 0.9, 1.5, 2.1, 2.7, 3.8, 4.8, 5.6, 6.2, 7.5, 6.1, 5.5, 4.8, 3.7, 2.8, 2.0, 1.5, 1.1, 0.6, 0.3],
    [0, 0, 0.06, 0.09, 0.12, 0.18, 0.3, 0.45, 0.6, 0.9, 1.2, 1.5, 1.8, 3, 1.8, 1.6, 1.4, 1.1, 0.8, 0.6, 0.4, 0.3, 0.2, 0.1],
]
P19_FIT = [
    [0, 0, 15, 17, 18, 18.1, 18.1, 18.1, 18.1, 18.1, 18.1, 18.1, 18.1, 15.8, 13.8, 10.3, 7.5, 5.6, 4.1, 3.0, 1.6, 0.9],
    [0, 0, 7, 12, 14, 15.8, 16.8, 17, 17, 17, 17, 17, 17, 14.8, 12.9, 9.6, 7.0, 5.2, 3.8, 2.8, 1.5, 0.8],
    [0, 0, 1.5, 2.2, 2.9, 4.2, 7, 9, 10.5, 12.3, 13.2, 13.6, 13.8, 12.0, 10.5, 7.8, 5.8, 4.3, 3.1, 2.3, 1.2, 0.6],
    [0, 0, 0.3, 0.45, 0.6, 0.9, 1.5, 2.1, 2.7, 3.8, 4.8, 5.5, 6.1, 5.3, 4.6, 3.5, 2.6, 1.9, 1.4, 1.0, 0.55, 0.3],
    [0, 0, 0.06, 0.09, 0.12, 0.18, 0.3, 0.45, 0.6, 0.9, 1.2, 1.5, 1.8, 1.55, 1.35, 1.0, 0.72, 0.52, 0.38, 0.3, 0.17, 0.1],
]

# ---------------- VAMP/F/153 ----------------
P20_RED_T = [-20, -10, -1, 0, 1, 3, 5, 8, 12, 16, 20, 25, 30, 35, 40, 45, 50, 55, 59, 60, 61, 65, 70, 80, 90,
             100, 110, 120, 130, 140, 150, 160, 170, 180, 190, 200, 210, 220, 230, 240, 250, 260, 270, 280, 290, 300]
P20_RED = [
    [0.1, -0.1, 0.1, -1.0, 0.5, 1.3, 1.7, 1.9, 1.6, 2.0, 1.7, 2.1, 1.6, 1.8, 1.5, 1.9, 1.6, 1.8, 1.5, 4.8, 1.6, 1.4,
     1.3, 1.1, 0.9, 0.7, 0.6, 0.5, 0.3, 0.5, 0.2, 0.4, 0.1, 0.3, 0.0, 0.3, 0.1, 0.4, 0.0, 0.3, 0.1, 0.4, 0.2, 0.0, 0.3, 0.2],
    [0, 0.1, -0.1, -0.6, 0.3, 1.0, 1.4, 1.8, 1.5, 1.7, 1.9, 1.5, 1.8, 1.4, 1.7, 1.5, 1.8, 1.5, 1.6, 2.5, 1.4, 1.3,
     1.2, 1.0, 0.8, 0.6, 0.7, 0.3, 0.5, 0.2, 0.3, 0.0, 0.2, -0.1, 0.2, 0.0, -0.2, 0.1, -0.3, 0.0, 0.2, -0.1, 0.3, 0.1, 0.2, 0.0],
    [0, -0.1, 0.1, 0.0, 0.2, 0.5, 0.8, 1.0, 1.2, 1.1, 1.3, 1.2, 1.3, 1.1, 1.3, 1.2, 1.3, 1.1, 1.2, 1.8, 1.1, 1.0,
     0.9, 0.8, 0.6, 0.5, 0.4, 0.3, 0.2, 0.3, 0.1, 0.2, -0.1, 0.1, 0.2, -0.1, 0.1, 0.3, 0.0, 0.2, -0.2, 0.1, 0.0, 0.3, 0.1, 0.2],
    [0, 0.1, 0, 0, 0.05, 0.1, 0.2, 0.25, 0.3, 0.35, 0.4, 0.5, 0.45, 0.55, 0.5, 0.6, 0.55, 0.6, 0.65, 1.2, 0.6, 0.7,
     0.8, 0.6, 0.5, 0.3, 0.4, 0.2, 0.3, 0.1, 0.2, 0.3, 0.0, 0.2, 0.4, 0.1, -0.3, -0.4, 0.0, 0.2, 0.1, 0.3, 0.0, 0.2, 0.4, 0.1],
    [0, 0, 0, 0, 0, 0.05, 0.1, 0.1, 0.15, 0.2, 0.2, 0.15, 0.25, 0.2, 0.2, 0.25, 0.2, 0.2, 0.2, 0.5, 0.2, 0.2,
     0.2, 0.15, 0.1, 0.1, 0.05, 0.1, 0.0, 0.1, 0.05, 0.0, 0.1, 0.0, 0.05, 0.1, 0.0, 0.05, 0.0, 0.1, 0.05, 0.0, 0.1, 0.0, 0.05, 0.0],
]
P20_FIT_T = [-20, 0, 2, 4, 6, 10, 15, 20, 30, 40, 50, 60, 70, 80, 100, 125, 150, 175, 200, 250, 300]
P20_FIT = [
    [0, 0, 1.3, 1.55, 1.62, 1.65, 1.65, 1.65, 1.65, 1.65, 1.65, 1.65, 1.38, 1.1, 0.72, 0.42, 0.24, 0.13, 0.07, 0.02, 0],
    [0, 0, 0.6, 0.95, 1.2, 1.45, 1.53, 1.55, 1.55, 1.55, 1.55, 1.55, 1.3, 1.04, 0.68, 0.4, 0.22, 0.12, 0.07, 0.02, 0],
    [0, 0, 0.2, 0.38, 0.52, 0.78, 0.95, 1.05, 1.15, 1.2, 1.21, 1.22, 1.03, 0.83, 0.54, 0.31, 0.18, 0.1, 0.05, 0.01, 0],
    [0, 0, 0.04, 0.08, 0.12, 0.19, 0.27, 0.34, 0.45, 0.52, 0.57, 0.6, 0.52, 0.43, 0.3, 0.18, 0.1, 0.06, 0.03, 0.01, 0],
    [0, 0, 0.01, 0.02, 0.03, 0.05, 0.07, 0.09, 0.13, 0.16, 0.18, 0.2, 0.18, 0.16, 0.12, 0.08, 0.05, 0.03, 0.02, 0.01, 0],
]

# ---------------- axes per panel ----------------
X100, X150, X200, X300 = [-20, 100], [-20, 150], [-20, 200], [-20, 300]
XT100, XT150, XT200, XT300 = [0, 50, 100], [0, 50, 100, 150], [0, 50, 100, 150, 200], [0, 100, 200, 300]

PANELS = [
    ("SNAP/A/291", X100, XT100, [-1, 20], [0, 5, 10, 15, 20], T100, P01_RED, RECT_T100, P01_FIT, [3], "Time [s]"),
    ("SNAP/A/305", X100, XT100, [-1, 20], [0, 5, 10, 15, 20], T100, P02_RED, RECT_T100, P02_FIT, [2, 3], "Time [s]"),
    ("VAMP/B/226", X100, XT100, [-20, 30], [-20, -10, 0, 10, 20, 30], T100, P03_RED, T100, P03_FIT, [], "Time [s]"),
    ("VAMP/B/1148", X100, XT100, [-30, 30], [-30, -20, -10, 0, 10, 20, 30], T100, P04_RED, T100, P04_FIT, [], "Time [s]"),
    ("VAMP/B/151", X300, XT300, [-1, 50], [0, 20, 40], P05_RED_T, P05_RED, P05_FIT_T, P05_FIT, [3], "Time [s]"),
    ("VAMP/B/392", X100, XT100, [-1, 50], [0, 20, 40], P06_RED_T, P06_RED, P06_FIT_T, P06_FIT, [1, 3], "Time [s]"),
    ("VAMP/B/726", X150, XT150, [-1, 50], [0, 20, 40], P07_RED_T, P07_RED, P07_FIT_T, P07_FIT, [], "Time [s]"),
    ("SNAP/C/2207", X150, XT150, [-1, 20], [0, 5, 10, 15, 20], P08_RED_T, P08_RED, P08_FIT_T, P08_FIT, [1, 4], "Time [s]"),
    ("SNAP/C/5593", X150, XT150, [-1, 20], [0, 5, 10, 15, 20], P09_RED_T, P09_RED, P09_FIT_T, P09_FIT, [0], "Time [s]"),
    ("SNAP/C/1844", X150, XT150, [-1, 20], [0, 5, 10, 15, 20], C_RED_T, P10_RED, RECT_T150, P10_FIT, [1], "Time [s]"),
    ("SNAP/C/3280", X150, XT150, [-1, 20], [0, 5, 10, 15, 20], C_RED_T, P11_RED, RECT_T150, P11_FIT, [1], "Time [s]"),
    ("VAMP/D/27", X200, XT200, [-1, 15], [0, 5, 10, 15], P12_RED_T, P12_RED, P12_FIT_T, P12_FIT, [4], "Time [s]"),
    ("VAMP/D/29", X200, XT200, [-1, 15], [0, 5, 10, 15], P13_RED_T, P13_RED, RECT_T200, P13_FIT, [0, 1, 4], "Time [s]"),
    ("SNAP/E/217", X150, XT150, [-1, 8], [0, 2, 4, 6, 8], P14_RED_T, P14_RED, P14_FIT_T, P14_FIT, [4], "Time [s]"),
    ("SNAP/E/1466", X150, XT150, [-1, 15], [0, 5, 10, 15], P15_RED_T, P15_RED, P15_FIT_T, P15_FIT, [], "TimeTime [s]"),
    ("VAMP/F/425", X300, XT300, [-1, 30], [0, 10, 20, 30], P16_RED_T, P16_RED, P16_FIT_T, P16_FIT, [4], "Time [s]"),
    ("VAMP/F/440", X300, XT300, [-1, 30], [0, 10, 20, 30], P17_RED_T, P17_RED, P17_FIT_T, P17_FIT, [], "Time [s]"),
    ("VAMP/F/521", X300, XT300, [-1, 30], [0, 10, 20, 30], F_RED_T, P18_RED, F_FIT_T, P18_FIT, [], "Time (s)"),
    ("VAMP/F/1333", X300, XT300, [-1, 30], [0, 10, 20, 30], F_RED_T, P19_RED, F_FIT_T, P19_FIT, [], "Time (s)"),
    ("VAMP/F/153", X300, XT300, [-1, 5], [0, 2, 4], P20_RED_T, P20_RED, P20_FIT_T, P20_FIT, [], "Time [s]"),
]

LABEL_EXPR = "datum.value < 0 ? '-' + format(-datum.value, 'd') : format(datum.value, 'd')"


def build_panel(title, xdom, xticks, ydom, yticks, red_t, reds, fit_t, fits, grey, xtitle):
    red_rows, fit_rows = [], []
    for i, ys in enumerate(reds):
        if len(ys) != len(red_t):
            raise ValueError(f"{title}: red {i} has {len(ys)} values for {len(red_t)} times")
        red_rows += [{"t": t, "y": y, "c": i} for t, y in zip(red_t, ys)]
    for i, ys in enumerate(fits):
        if len(ys) != len(fit_t):
            raise ValueError(f"{title}: fit {i} has {len(ys)} values for {len(fit_t)} times")
        col = GREY if i in grey else BLACK
        fit_rows += [{"t": t, "y": y, "c": i, "col": col} for t, y in zip(fit_t, ys)]

    x = alt.X("t:Q", scale=alt.Scale(domain=xdom, nice=False, zero=False),
              axis=alt.Axis(values=xticks, title=xtitle, titleY=58.5, titleBaseline="alphabetic",
                            labelPadding=4, labelExpr=LABEL_EXPR))
    y = alt.Y("y:Q", scale=alt.Scale(domain=ydom, nice=False, zero=False),
              axis=alt.Axis(values=yticks, title="RU [Fc2-1]", titleX=-36, titleBaseline="alphabetic",
                            labelPadding=1, labelExpr=LABEL_EXPR))

    zero = alt.Chart(pd.DataFrame({"t": [0, xdom[1]], "y": [0, 0]})).mark_line(
        color=BLACK, strokeWidth=1.4, strokeDash=[1.5, 1.5], clip=True).encode(x=x, y=y)
    fit_layer = alt.Chart(pd.DataFrame(fit_rows)).mark_line(strokeWidth=1.6, clip=True).encode(
        x=x, y=y, detail="c:N", color=alt.Color("col:N", scale=None))
    red_layer = alt.Chart(pd.DataFrame(red_rows)).mark_line(color=RED, strokeWidth=1.2, clip=True).encode(
        x=x, y=y, detail="c:N")
    head = alt.Chart(pd.DataFrame({"label": [title]})).mark_text(
        font=FONT, fontSize=27, fontWeight="bold", color=BLACK, align="center", baseline="alphabetic"
    ).encode(x=alt.value(PW / 2), y=alt.value(-16.5), text="label:N")
    return alt.layer(zero, fit_layer, red_layer, head).properties(width=PW, height=PH)


def spacer(w, h):
    return alt.Chart(pd.DataFrame({"v": [0]})).mark_point(opacity=0).encode(
        x=alt.X("v:Q", axis=None), y=alt.Y("v:Q", axis=None)
    ).properties(width=w, height=h, view=alt.ViewBackground(stroke="transparent"))


panels = [build_panel(*p) for p in PANELS]
COL_GAPS = [126, 113, 113]
ROW_GAPS = [167, 155, 155, 155]

cells = []
for r in range(5):
    row = panels[r * 4:(r + 1) * 4]
    cells += [row[0], spacer(COL_GAPS[0], 1), row[1], spacer(COL_GAPS[1], 1),
              row[2], spacer(COL_GAPS[2], 1), row[3]]
    if r < 4:
        cells += [spacer(1, ROW_GAPS[r]) for _ in range(7)]

chart = alt.concat(
    *cells, columns=7, spacing=0, bounds="flush",
    padding={"left": 2, "top": -2, "right": 0, "bottom": 0},
).configure(background="white").configure_view(
    stroke=BLACK, strokeWidth=1.2
).configure_axis(
    labelFont=FONT, labelFontSize=23, labelFontWeight="bold", labelColor=BLACK,
    titleFont=FONT, titleFontSize=24, titleFontWeight="bold", titleColor=BLACK,
    grid=False, domainColor=BLACK, domainWidth=1.5, tickColor=BLACK, tickWidth=1.5, tickSize=5,
    labelFlush=False, labelOverlap=False,
)

chart.save("out.html", embed_options={"renderer": "svg", "actions": False})
